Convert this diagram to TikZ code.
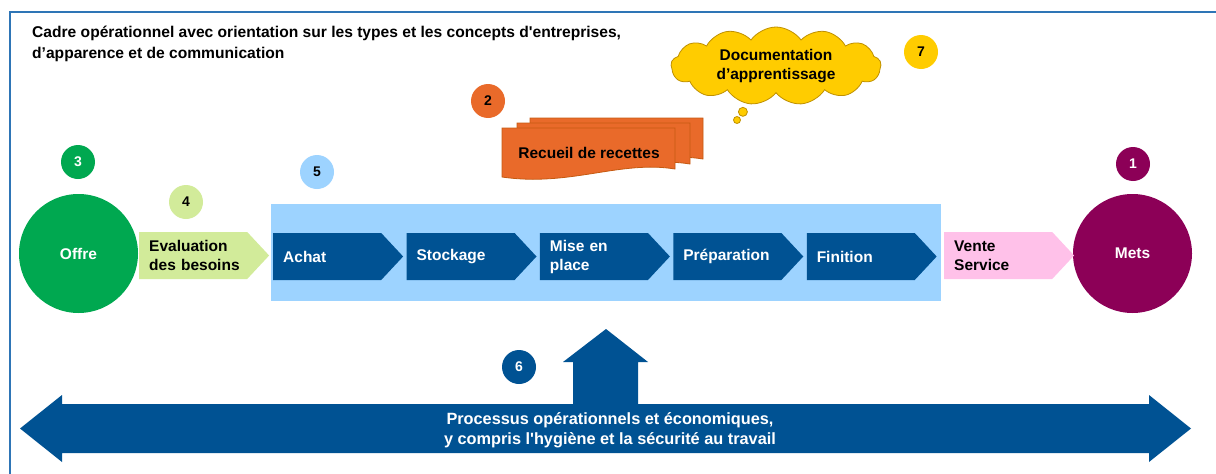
\documentclass[tikz,border=0pt]{standalone}
\usepackage{fontspec}
\setmainfont{Liberation Sans}[Ligatures=TeXOff]
\usetikzlibrary{positioning,shapes.symbols,shapes.callouts}

\definecolor{procblue}{RGB}{0,82,147}
\definecolor{kitchenblue}{RGB}{157,211,255}
\definecolor{offregreen}{RGB}{0,168,80}
\definecolor{besoingreen}{RGB}{210,235,154}
\definecolor{ventepink}{RGB}{255,193,233}
\definecolor{metspurple}{RGB}{140,0,87}
\definecolor{recipeorange}{RGB}{233,106,42}
\definecolor{recipeedge}{RGB}{197,90,17}
\definecolor{cloudyellow}{RGB}{255,204,0}
\definecolor{cloudedge}{RGB}{191,144,0}
\definecolor{frameblue}{RGB}{46,117,182}

\begin{document}
\begin{tikzpicture}[x=1pt,y=-1pt,
    lbl/.style={font=\fontsize{15.5}{19}\selectfont\bfseries},
    num/.style={circle,minimum size=34,inner sep=0,font=\fontsize{14}{16}\selectfont\bfseries},
    bigdot/.style={circle,minimum size=119,inner sep=0,text=white,lbl},
    chevron/.style={signal,signal to=east,signal pointer angle=94,minimum height=47,
        inner xsep=10,inner ysep=0,text width=88,align=left,anchor=west,lbl}]
    \useasboundingbox (0,0) rectangle (1216,474);

    % Frame
    \draw[frameblue,line width=1.5] (1216,12) -- (10,12) -- (10,474);
    \node[anchor=north west,inner sep=0,align=left,font=\fontsize{15.6}{21}\selectfont\bfseries] (title) at (32,26)
        {Cadre opérationnel avec orientation sur les types et les concepts d'entreprises,\\d’apparence et de communication};

    % Process band
    \fill[kitchenblue] (271,204) rectangle (941,301);
    \node[num,fill=kitchenblue] (n5) at (317,172) {5};

    % Offer and dishes
    \node[bigdot,fill=offregreen] (offre) at (78.5,253.5) {Offre};
    \node[num,fill=offregreen,text=white] (n3) at (78,162) {3};
    \node[bigdot,fill=metspurple] (mets) at (1132.5,253.5) {Mets};
    \node[num,fill=metspurple,text=white] (n1) at (1133,164) {1};

    % Steps
    \node[chevron,fill=besoingreen] (besoins) at (139,255.5) {Evaluation\\\mbox{des besoins}};
    \node[num,fill=besoingreen] (n4) at (186,202) {4};
    \node[chevron,fill=procblue,text=white] (achat) at (273,256.5) {Achat};
    \node[chevron,fill=procblue,text=white,right=3pt of achat] (stockage) {Stockage};
    \node[chevron,fill=procblue,text=white,right=3pt of stockage] (mise) {Mise en\\place};
    \node[chevron,fill=procblue,text=white,right=3pt of mise] (prepa) {Préparation};
    \node[chevron,fill=procblue,text=white,right=3pt of prepa] (finition) {Finition};
    \node[chevron,fill=ventepink] (vente) at (944,255.5) {Vente\\Service};

    % Recipe book
    \foreach \dx/\dy in {28/-10,15/-5,0/0}
        \filldraw[fill=recipeorange,draw=recipeedge,line width=0.8,shift={(\dx,\dy)}]
            (502,128) -- (675,128) -- (675,169) .. controls (620,160) and (570,187) .. (502,177) -- cycle;
    \node[lbl] (recueil) at (589,153) {Recueil de recettes};
    \node[num,fill=recipeorange] (n2) at (488,101) {2};

    % Learning documentation
    \node[cloud callout,cloud puffs=13,cloud puff arc=110,cloud ignores aspect,callout pointer segments=2,
        callout pointer start size=11pt,callout pointer end size=7pt,
        callout absolute pointer={(737,120)},minimum width=210,minimum height=78,
        fill=cloudyellow,draw=cloudedge,line width=0.8,align=center,lbl] (doc) at (776,66)
        {Documentation\\d’apprentissage};
    \node[num,fill=cloudyellow] (n7) at (921,52) {7};

    % Operational processes
    \fill[procblue] (20,428.5) -- (62,395) -- (62,404) -- (573,404) -- (573,362) -- (563,362)
        -- (606,329) -- (648,362) -- (638,362) -- (638,404) -- (1149,404) -- (1149,395)
        -- (1191,428.5) -- (1149,462) -- (1149,453) -- (62,453) -- (62,462) -- cycle;
    \node[text=white,align=center,font=\fontsize{16.3}{20}\selectfont\bfseries] (process) at (610,430)
        {Processus opérationnels et économiques,\\y compris l'hygiène et la sécurité au travail};
    \node[num,fill=procblue,text=white] (n6) at (519,367) {6};
\end{tikzpicture}
\end{document}
